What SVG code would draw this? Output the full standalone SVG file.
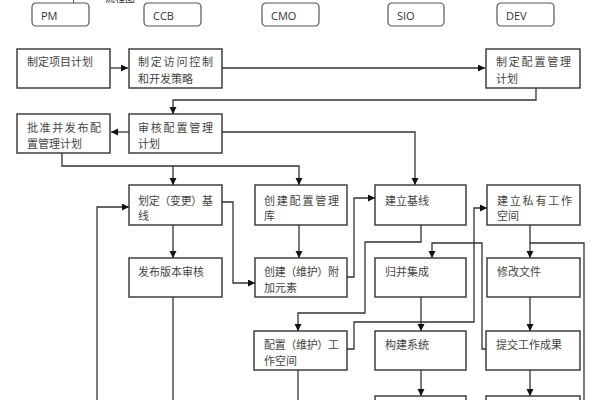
<svg xmlns="http://www.w3.org/2000/svg" width="597" height="400" viewBox="0 0 597 400">
<defs>
<marker id="ah" markerUnits="userSpaceOnUse" markerWidth="8" markerHeight="8" refX="7" refY="3.5" orient="auto">
<path d="M0,0 L7,3.5 L0,7 z" fill="#111"/>
</marker>
<style>
.lane rect{fill:#fff;stroke:#555;stroke-width:1.2}
.lane text{font-family:"Open Sans","Liberation Sans",sans-serif;font-size:11px;fill:#333}
.node rect{fill:#fff;stroke:#333;stroke-width:1.4}
.node text{font-family:"Liberation Serif","Noto Sans CJK SC",serif;font-size:11px;fill:#444}
#connectors path{fill:none;stroke:#333;stroke-width:1.3}
#connectors path.a{marker-end:url(#ah)}
</style>
</defs>
<rect width="597" height="400" fill="#fff"/>
<path d="M73.5,0 V3" stroke="#555" stroke-width="1"/>
<text x="105" y="2" font-family="Liberation Sans, Noto Sans CJK SC, sans-serif" font-size="10" fill="#333">流程图</text>
<g id="lane-pm" class="lane"><rect x="32" y="3" width="57" height="23" rx="4"/><text x="41" y="20">PM</text></g>
<g id="lane-ccb" class="lane"><rect x="144" y="3" width="57" height="23" rx="4"/><text x="153" y="20">CCB</text></g>
<g id="lane-cmo" class="lane"><rect x="262" y="3" width="57" height="23" rx="4"/><text x="271" y="20">CMO</text></g>
<g id="lane-sio" class="lane"><rect x="388" y="3" width="56" height="23" rx="4"/><text x="397" y="20">SIO</text></g>
<g id="lane-dev" class="lane"><rect x="497" y="3" width="57" height="23" rx="4"/><text x="506" y="20">DEV</text></g>

<g id="connectors">
<path class="a" d="M110,68 H128"/>
<path class="a" d="M222,68 H485"/>
<path class="a" d="M536,88 V100 H173 V114"/>
<path class="a" d="M129,132 H111"/>
<path class="a" d="M222,132 H415 V185"/>
<path class="a" d="M62,153 V166 H299 V185"/>
<path class="a" d="M173,166 V185"/>
<path class="a" d="M173,225 V258"/>
<path d="M173,297 V400"/>
<path class="a" d="M97,400 V207 H129"/>
<path class="a" d="M222,202 H233 V283 H255"/>
<path class="a" d="M299,225 V258"/>
<path class="a" d="M347,277 H354 V198 H375"/>
<path class="a" d="M421,225 V242 H365 V313 H298 V331"/>
<path class="a" d="M347,349 H354 V322 H474 V208 H487"/>
<path class="a" d="M486,349 H482 V243 H432 V258"/>
<path class="a" d="M530,225 V258"/>
<path d="M530,243 H584 V400"/>
<path class="a" d="M530,297 V331"/>
<path class="a" d="M421,297 V331"/>
<path class="a" d="M421,370 V396"/>
<path class="a" d="M530,370 V396"/>
<path d="M298,370 V400"/>
</g>

<g id="n1" class="node"><rect x="17" y="49" width="93" height="39"/><text x="27" y="66">制定项目计划</text></g>
<g id="n2" class="node"><rect x="129" y="49" width="93" height="39"/><text x="138" y="66" textLength="75" lengthAdjust="spacing">制定访问控制</text><text x="138" y="83">和开发策略</text></g>
<g id="n3" class="node"><rect x="486" y="49" width="94" height="39"/><text x="496" y="66" textLength="75" lengthAdjust="spacing">制定配置管理</text><text x="496" y="83">计划</text></g>
<g id="n4" class="node"><rect x="17" y="114" width="93" height="39"/><text x="27" y="132" textLength="74" lengthAdjust="spacing">批准并发布配</text><text x="27" y="148">置管理计划</text></g>
<g id="n5" class="node"><rect x="129" y="114" width="93" height="39"/><text x="138" y="132" textLength="75" lengthAdjust="spacing">审核配置管理</text><text x="138" y="148">计划</text></g>
<g id="n6" class="node"><rect x="129" y="185" width="93" height="40"/><text x="138" y="205" textLength="75" lengthAdjust="spacing">划定（变更）基</text><text x="138" y="220">线</text></g>
<g id="n7" class="node"><rect x="255" y="185" width="92" height="40"/><text x="264" y="205" textLength="75" lengthAdjust="spacing">创建配置管理</text><text x="264" y="220">库</text></g>
<g id="n8" class="node"><rect x="375" y="185" width="91" height="40"/><text x="385" y="205">建立基线</text></g>
<g id="n9" class="node"><rect x="487" y="185" width="93" height="40"/><text x="497" y="205" textLength="75" lengthAdjust="spacing">建立私有工作</text><text x="497" y="220">空间</text></g>
<g id="n10" class="node"><rect x="129" y="258" width="93" height="39"/><text x="138" y="276">发布版本审核</text></g>
<g id="n11" class="node"><rect x="255" y="258" width="92" height="39"/><text x="264" y="276" textLength="75" lengthAdjust="spacing">创建（维护）附</text><text x="264" y="292">加元素</text></g>
<g id="n12" class="node"><rect x="375" y="258" width="91" height="39"/><text x="385" y="276">归并集成</text></g>
<g id="n13" class="node"><rect x="487" y="258" width="93" height="39"/><text x="497" y="276">修改文件</text></g>
<g id="n14" class="node"><rect x="254" y="331" width="93" height="39"/><text x="264" y="349" textLength="75" lengthAdjust="spacing">配置（维护）工</text><text x="264" y="365">作空间</text></g>
<g id="n15" class="node"><rect x="375" y="331" width="91" height="39"/><text x="385" y="349">构建系统</text></g>
<g id="n16" class="node"><rect x="486" y="331" width="94" height="39"/><text x="496" y="349">提交工作成果</text></g>
<g id="n17" class="node"><rect x="375" y="396" width="91" height="30"/></g>
<g id="n18" class="node"><rect x="486" y="396" width="94" height="30"/></g>
</svg>
